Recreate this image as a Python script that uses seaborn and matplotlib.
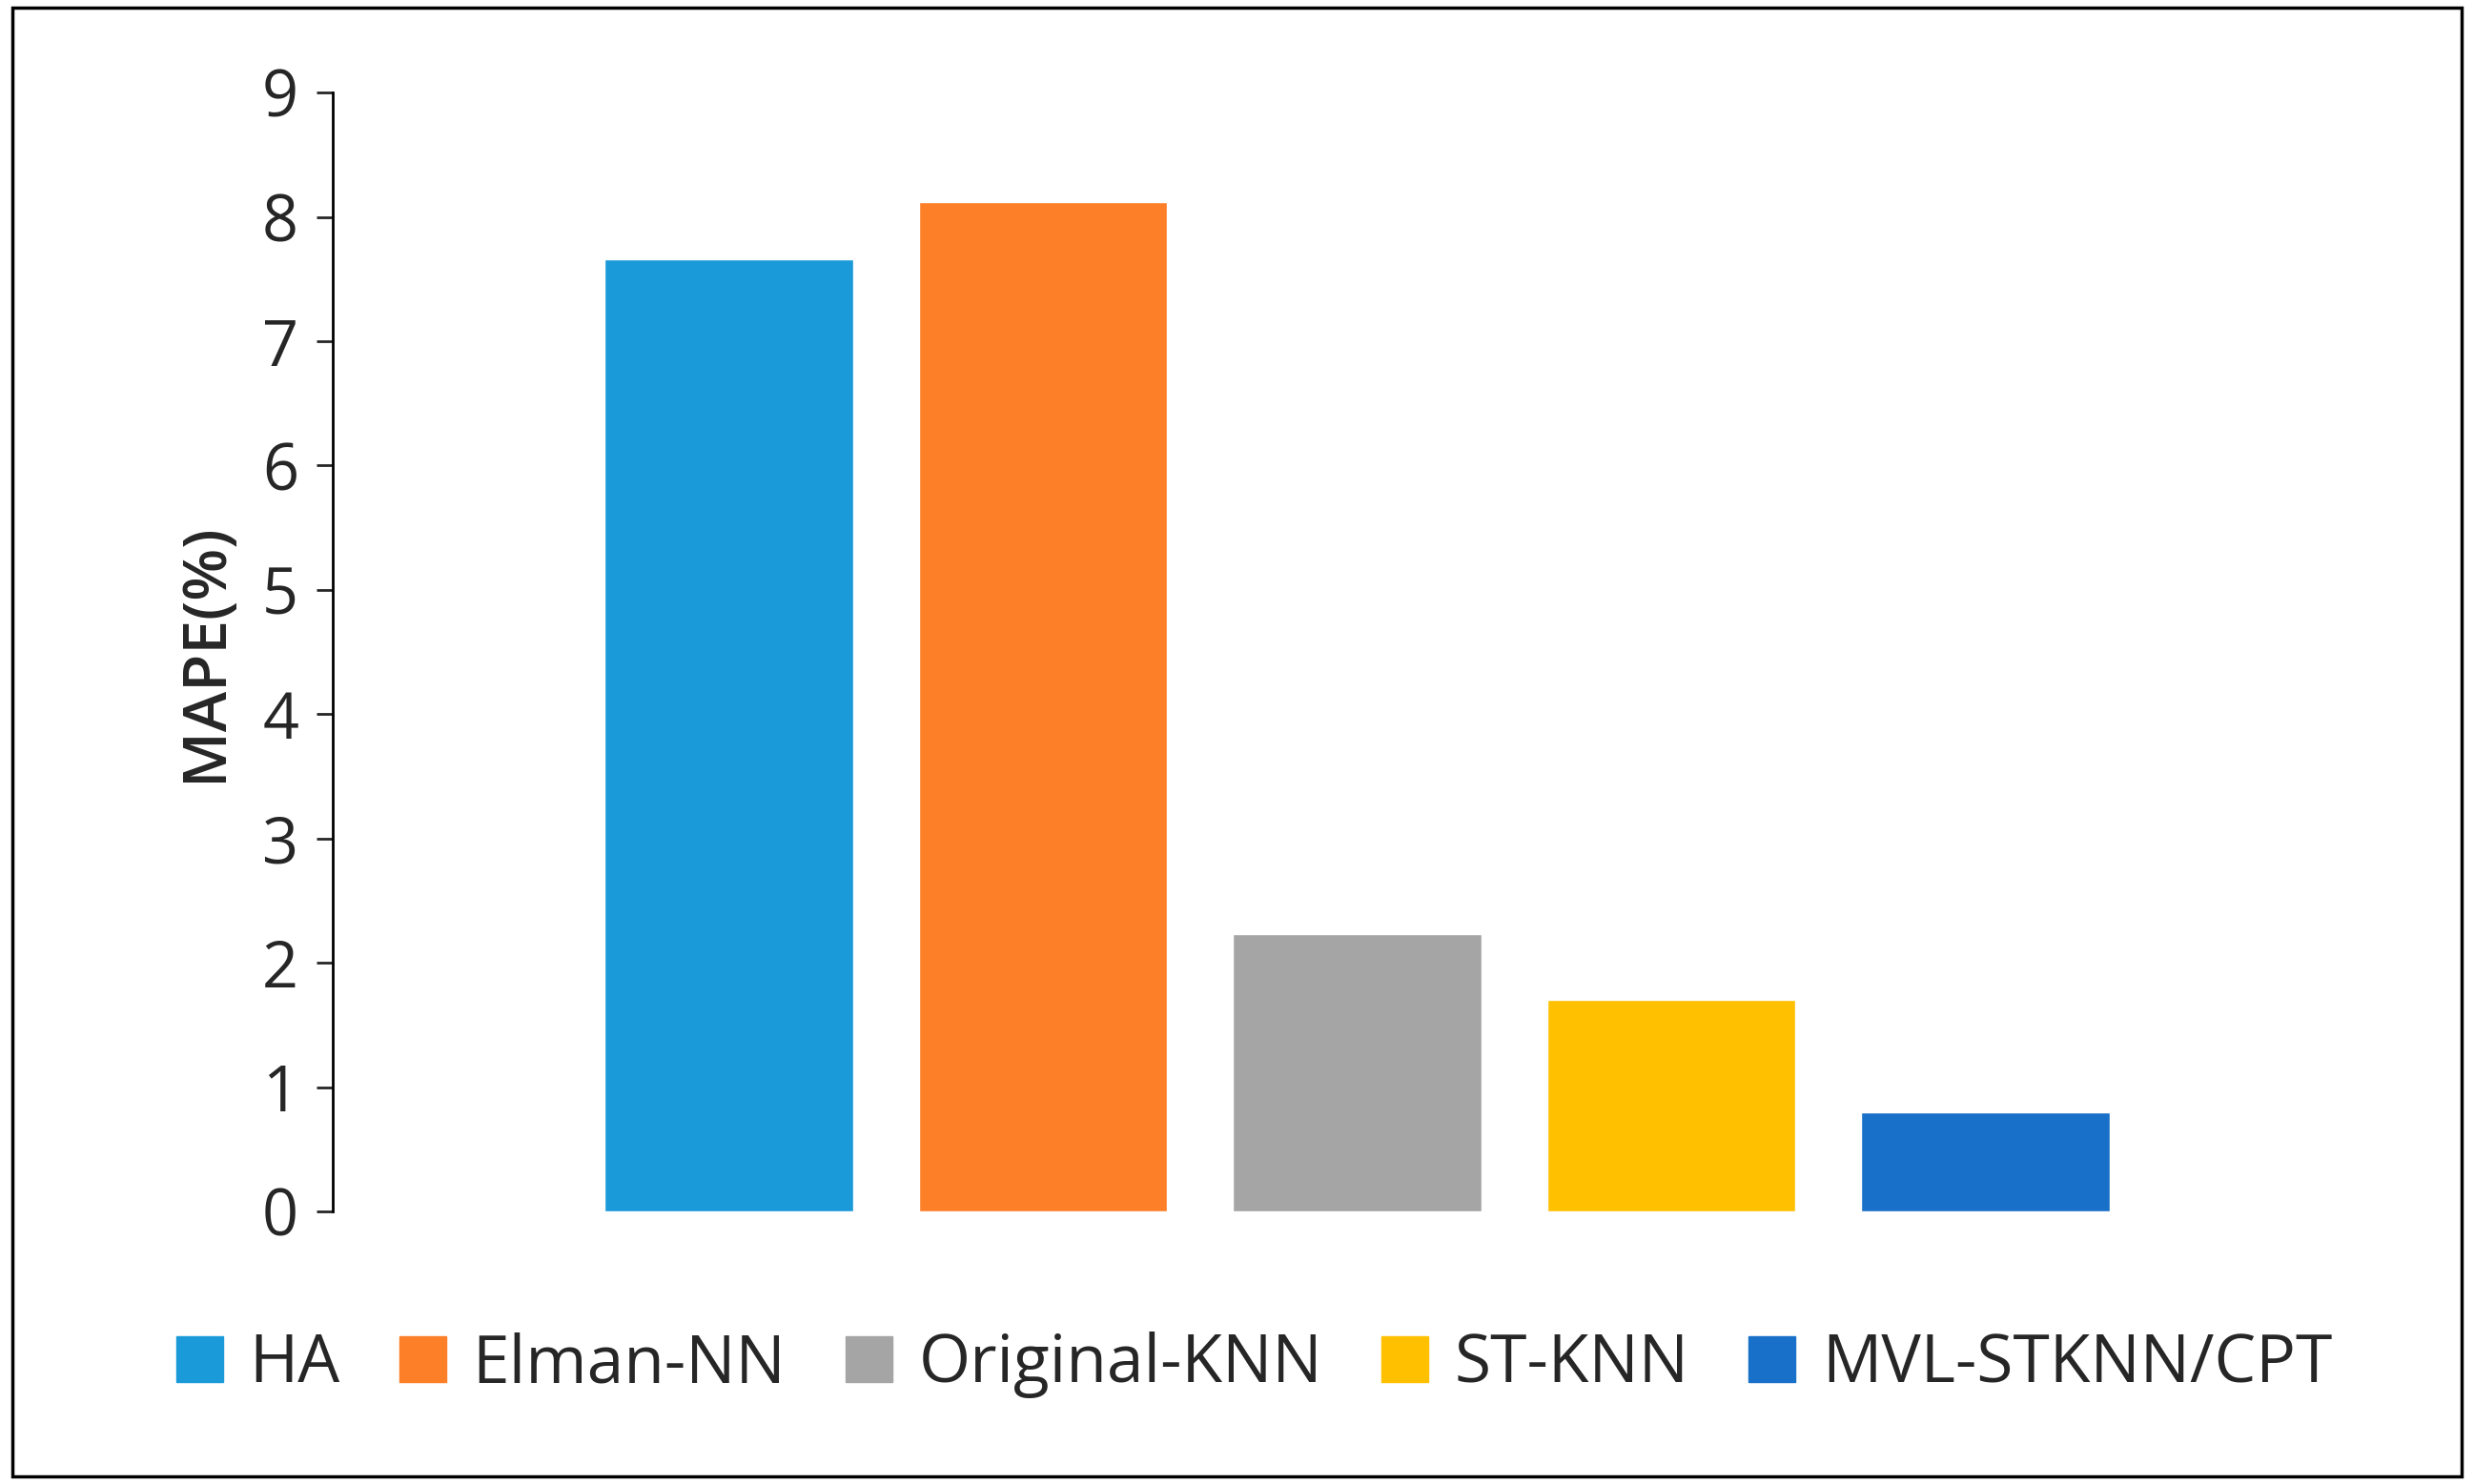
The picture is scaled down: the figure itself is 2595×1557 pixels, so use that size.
import matplotlib
matplotlib.use("Agg")
import matplotlib.pyplot as plt
import seaborn as sns
import pandas as pd
from matplotlib.patches import Rectangle

methods = ["HA", "Elman-NN", "Original-KNN", "ST-KNN", "MVL-STKNN/CPT"]
mape = [7.66, 8.12, 2.23, 1.70, 0.80]
colors = ["#1b9ad9", "#fd7f28", "#a5a5a5", "#ffc000", "#1870c8"]
yticks = list(range(0, 10))

sns.set_theme(style="white")
plt.rcParams['font.family'] = ['Open Sans', 'DejaVu Sans']

df = pd.DataFrame({"method": methods, "MAPE": mape})
fig = plt.figure(figsize=(25.95, 15.57), dpi=100)
ax = fig.add_axes([0.1346, 0.1836, 0.80, 0.754])
sns.barplot(data=df, x="method", y="MAPE", hue="method", palette=colors,
            dodge=False, width=0.79, legend=False, ax=ax, saturation=1)
ax.set_xlim(-1.26, 5.04)
ax.set_ylim(0, 9)
ax.set_yticks(yticks)
ax.set_yticklabels([str(t) for t in yticks], fontsize=48)
ax.set_xticks([])
ax.set_xlabel("")
ax.set_ylabel("MAPE(%)", fontsize=46, labelpad=20, fontweight="semibold")
for s in ["top", "right", "bottom"]:
    ax.spines[s].set_visible(False)
ax.spines["left"].set_color("black")
ax.spines["left"].set_linewidth(2)
ax.tick_params(axis="y", direction="out", length=12, width=2, left=True, pad=14)

handles = [Rectangle((0, 0), 1, 1, color=c) for c in colors]
fig.legend(handles, methods, loc="center", bbox_to_anchor=(0.507, 0.08), ncol=5,
           frameon=False, fontsize=50, handlelength=0.7, handleheight=0.7,
           handletextpad=0.4, columnspacing=0.9)

fig.patches.append(Rectangle((0.005, 0.005), 0.99, 0.99, transform=fig.transFigure,
                             fill=False, edgecolor="black", linewidth=2.5))
fig.savefig("out.png", dpi=100)
